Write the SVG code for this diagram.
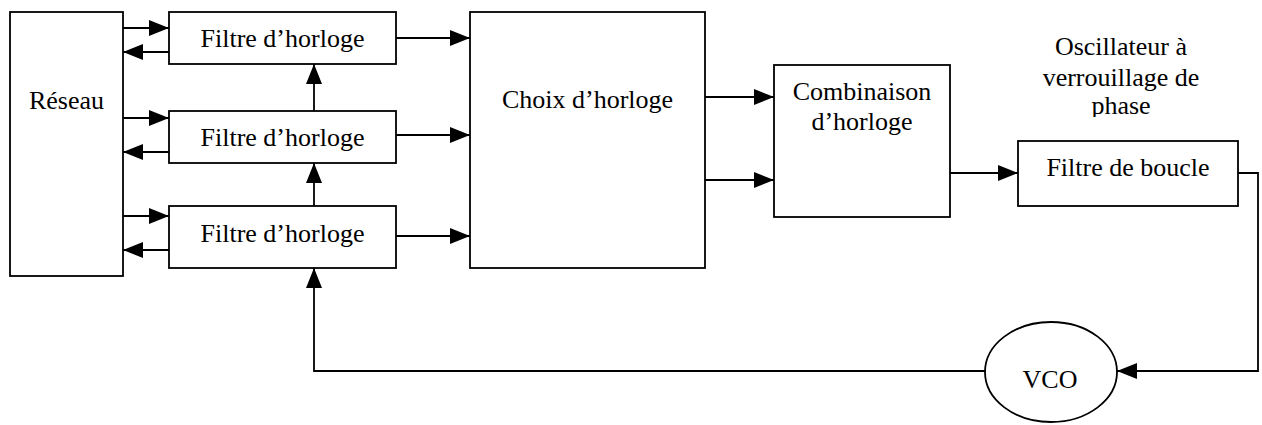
<svg xmlns="http://www.w3.org/2000/svg" width="1262" height="425" viewBox="0 0 1262 425">
<style>
.box{fill:#fff;stroke:#000;stroke-width:1.8}
.ln{fill:none;stroke:#000;stroke-width:1.8}
.arr{marker-end:url(#ah)}
.t{font-family:'Liberation Serif','DejaVu Serif',serif;font-size:26px;fill:#000;text-anchor:middle}
</style>
<defs>
<marker id="ah" markerUnits="userSpaceOnUse" markerWidth="20" markerHeight="16" refX="20" refY="8" orient="auto">
<path d="M0,0 L20,8 L0,16 z" fill="#000"/>
</marker>
<clipPath id="clipOsc"><rect x="1000" y="0" width="262" height="117"/></clipPath>
</defs>
<rect width="1262" height="425" fill="#fff"/>
<g id="connectors">
<path class="ln arr" d="M123,28 H169"/>
<path class="ln arr" d="M169,52 H123"/>
<path class="ln arr" d="M123,118 H169"/>
<path class="ln arr" d="M169,152 H123"/>
<path class="ln arr" d="M123,216 H169"/>
<path class="ln arr" d="M169,250 H123"/>
<path class="ln arr" d="M314,111 V64"/>
<path class="ln arr" d="M314,206 V163"/>
<path class="ln arr" d="M396,38 H470"/>
<path class="ln arr" d="M396,135 H470"/>
<path class="ln arr" d="M396,236 H470"/>
<path class="ln arr" d="M705,97 H774"/>
<path class="ln arr" d="M705,180 H774"/>
<path class="ln arr" d="M950,173 H1018"/>
<path class="ln arr" d="M1238,173 H1258 V371 H1117"/>
<path class="ln arr" d="M985,371 H314 V268"/>
</g>
<g font-family="Liberation Serif, DejaVu Serif, serif" font-size="26" text-anchor="middle" fill="#000">
<g id="reseau">
<rect class="box" x="10" y="12" width="113" height="264"/>
<text class="t" x="66.5" y="109">Réseau</text>
</g>
<g id="filtre1">
<rect class="box" x="169" y="12" width="227" height="52"/>
<text class="t" x="282.5" y="47">Filtre d’horloge</text>
</g>
<g id="filtre2">
<rect class="box" x="169" y="111" width="227" height="52"/>
<text class="t" x="282.5" y="146">Filtre d’horloge</text>
</g>
<g id="filtre3">
<rect class="box" x="169" y="206" width="227" height="62"/>
<text class="t" x="282.5" y="242">Filtre d’horloge</text>
</g>
<g id="choix">
<rect class="box" x="470" y="12" width="235" height="256"/>
<text class="t" x="587.5" y="108">Choix d’horloge</text>
</g>
<g id="combinaison">
<rect class="box" x="774" y="65" width="176" height="152"/>
<text class="t" x="862" y="100">Combinaison</text>
<text class="t" x="862" y="130">d’horloge</text>
</g>
<g id="oscillateur-label" clip-path="url(#clipOsc)">
<text class="t" x="1121" y="55">Oscillateur à</text>
<text class="t" x="1121" y="86">verrouillage de</text>
<text class="t" x="1121" y="114">phase</text>
</g>
<g id="filtre-boucle">
<rect class="box" x="1018" y="141" width="220" height="65"/>
<text class="t" x="1128" y="176">Filtre de boucle</text>
</g>
<g id="vco">
<ellipse class="box" cx="1051" cy="372" rx="66" ry="50"/>
<text class="t" x="1050" y="388">VCO</text>
</g>
</g>
</svg>
